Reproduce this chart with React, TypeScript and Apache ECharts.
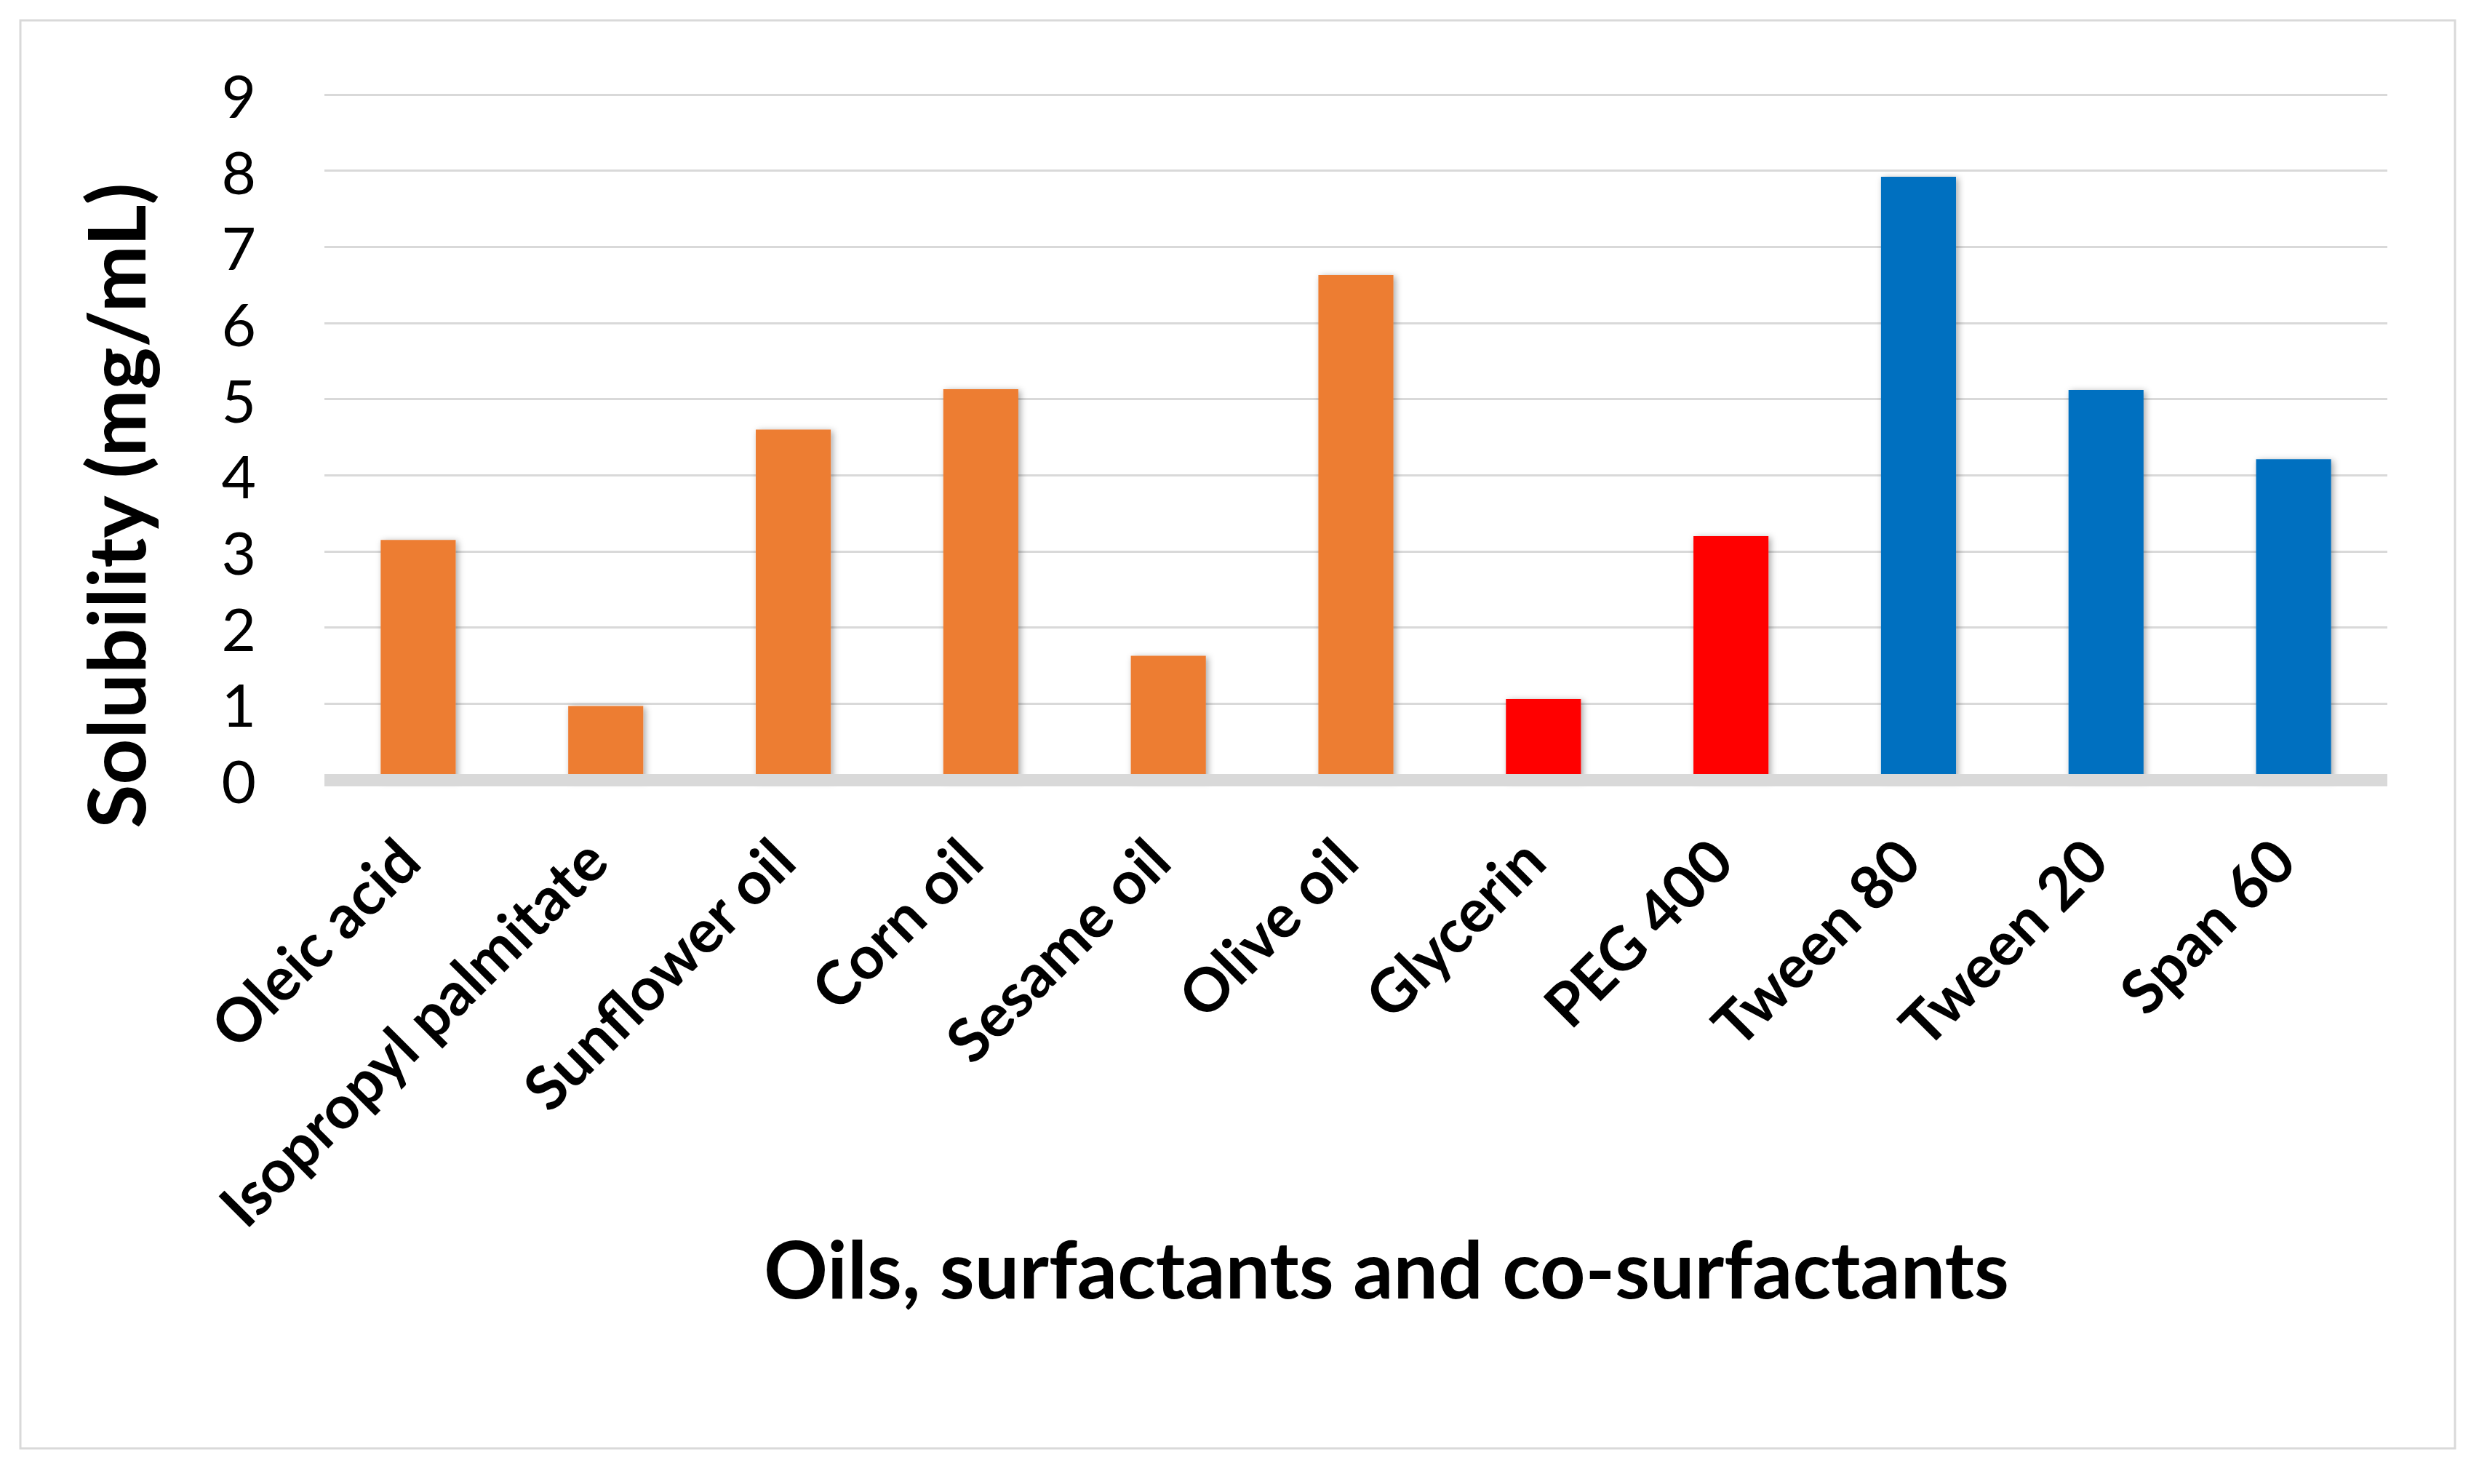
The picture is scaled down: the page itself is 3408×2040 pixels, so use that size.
import React, { useEffect, useRef } from "react";
import * as echarts from "echarts";

const categories = [
  "Oleic acid",
  "Isopropyl palmitate",
  "Sunflower oil",
  "Corn oil",
  "Sesame oil",
  "Olive oil",
  "Glycerin",
  "PEG 400",
  "Tween 80",
  "Tween 20",
  "Span 60",
];
const values = [3.15, 0.97, 4.6, 5.13, 1.63, 6.63, 1.06, 3.2, 7.92, 5.12, 4.21];
const groups = ["oil", "oil", "oil", "oil", "oil", "oil", "cosurf", "cosurf", "surf", "surf", "surf"];
const groupColors: Record<string, string> = {
  oil: "#ED7D31",
  cosurf: "#FF0000",
  surf: "#0070C0",
};
const yTicks = [0, 1, 2, 3, 4, 5, 6, 7, 8, 9];
const yTitle = "Solubility (mg/mL)";
const xTitle = "Oils, surfactants and co-surfactants";

export default function App() {
  const ref = useRef<HTMLDivElement>(null);
  useEffect(() => {
    document.body.style.margin = "0";
    if (!ref.current) return;
    const chart = echarts.init(ref.current, undefined, { renderer: "svg" });
    const font = "Lato";
    chart.setOption({
      animation: false,
      backgroundColor: "#ffffff",
      grid: { left: 446, right: 126, top: 130, bottom: 968, containLabel: false },
      xAxis: {
        type: "category",
        data: categories,
        z: 3,
        axisLine: { show: true, lineStyle: { color: "#D9D9D9", width: 17, cap: "butt" } },
        axisTick: { show: false },
        axisLabel: {
          interval: 0,
          rotate: 45,
          margin: 80,
          padding: [0, 21, 0, 0],
          fontFamily: font,
          fontWeight: "bold",
          fontSize: 83,
          color: "#000000",
        },
      },
      yAxis: {
        type: "value",
        min: yTicks[0],
        max: yTicks[yTicks.length - 1],
        interval: 1,
        axisLine: { show: false },
        axisTick: { show: false },
        splitLine: { show: true, lineStyle: { color: "#D9D9D9", width: 3 } },
        axisLabel: {
          margin: 94,
          fontFamily: font,
          fontSize: 82,
          color: "#000000",
        },
      },
      series: [
        {
          type: "bar",
          barCategoryGap: "60%",
          data: values.map((v, i) => ({
            value: v,
            itemStyle: {
              color: groupColors[groups[i]],
              shadowBlur: 10,
              shadowOffsetX: 3,
              shadowOffsetY: 2,
              shadowColor: "rgba(0,0,0,0.35)",
            },
          })),
        },
      ],
      graphic: [
        {
          type: "rect",
          shape: { x: 28, y: 28, width: 3347, height: 1963 },
          style: { fill: "none", stroke: "#D9D9D9", lineWidth: 3 },
          silent: true,
        },
        {
          type: "text",
          x: 157,
          y: 695,
          rotation: Math.PI / 2,
          style: {
            text: yTitle,
            fontFamily: font,
            fontWeight: "bold",
            fontSize: 110,
            fill: "#000000",
            align: "center",
            verticalAlign: "middle",
          },
        },
        {
          type: "text",
          x: 1906,
          y: 1742,
          style: {
            text: xTitle,
            fontFamily: font,
            fontWeight: "bold",
            fontSize: 109,
            fill: "#000000",
            align: "center",
            verticalAlign: "middle",
          },
        },
      ],
    });
    return () => chart.dispose();
  }, []);
  return (
    <div
      ref={ref}
      style={{ position: "fixed", left: 0, top: 0, width: 3408, height: 2040 }}
    />
  );
}
